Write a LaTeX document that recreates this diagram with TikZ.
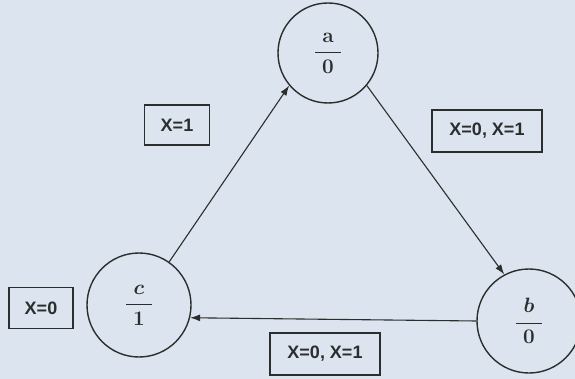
\documentclass[tikz,border=0pt]{standalone}
\usepackage{fontspec}
\usepackage{amsmath}
\newfontfamily\lblfont{Liberation Sans}
\usetikzlibrary{arrows.meta}
\definecolor{paper}{HTML}{DCE5EF}
\definecolor{ink}{HTML}{2A2E2C}
\newcommand{\stfrac}[2]{$\dfrac{\makebox[26pt]{$#1$}}{#2}$}
\begin{document}
\begin{tikzpicture}[x=1pt,y=-1pt,
  state/.style={circle,draw=ink,line width=1.4pt,minimum size=100pt,inner sep=0pt,font=\fontsize{22}{26}\selectfont\boldmath,text=ink},
  lbl/.style={draw=ink,line width=1.5pt,inner sep=0pt,font=\lblfont\bfseries\fontsize{18}{21}\selectfont,text=ink},
  conn/.style={draw=ink,line width=1.1pt,-{Latex[length=10pt,width=7pt]}}]
\fill[paper] (0,0) rectangle (575,379);
\useasboundingbox (0,0) rectangle (575,379);
\node[state] (a) at (328,53) {\stfrac{\mathbf{a}}{\mathbf{0}}};
\node[state,minimum size=104pt] (c) at (139,305) {\stfrac{c}{\mathbf{1}}};
\node[state,minimum size=104pt] (b) at (529,321) {\stfrac{b}{\mathbf{0}}};
\draw[conn] (a.-40) -- (b.118);
\draw[conn] (c.55) -- (a.-140);
\draw[conn] (b.180) -- (c.-14);
\node[lbl,minimum width=65pt,minimum height=40pt] (l1) at (177,125) {X=1};
\node[lbl,minimum width=110pt,minimum height=42pt] (l2) at (487,131) {X=0, X=1};
\node[lbl,minimum width=64pt,minimum height=41pt] (l3) at (41,308) {X=0};
\node[lbl,minimum width=110pt,minimum height=42pt] (l4) at (325,354) {X=0, X=1};
\end{tikzpicture}
\end{document}
